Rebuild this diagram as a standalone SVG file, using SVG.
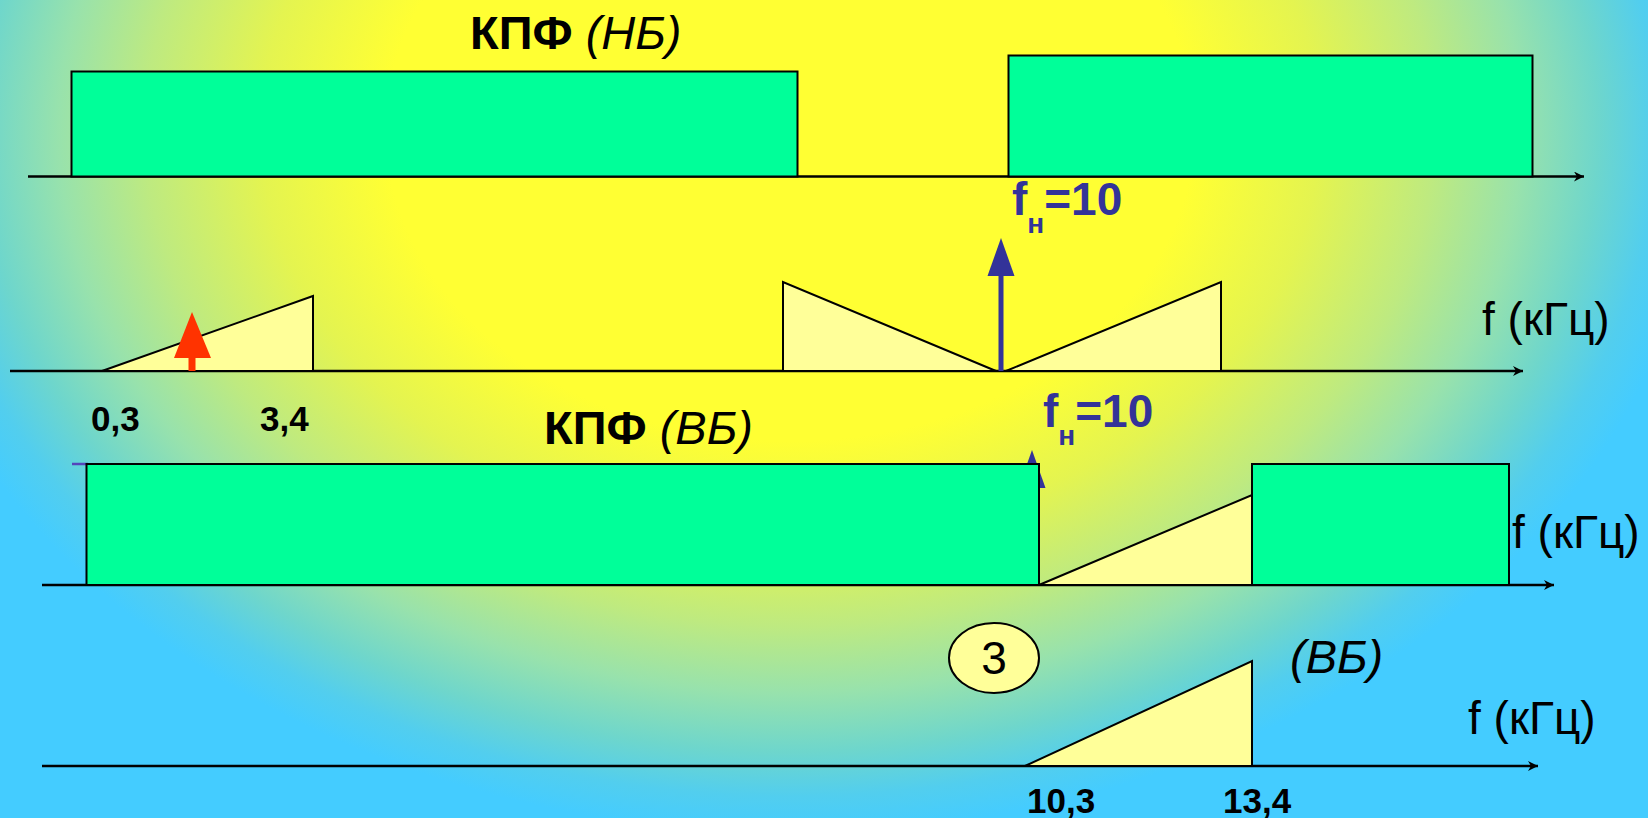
<svg xmlns="http://www.w3.org/2000/svg" width="1648" height="818" viewBox="0 0 1648 818">
<defs>
<radialGradient id="bg" gradientUnits="userSpaceOnUse" cx="790" cy="130" r="740" gradientTransform="translate(790 130) scale(1.3 1) translate(-790 -130)">
<stop offset="0" stop-color="#FFFF33"/>
<stop offset="0.42" stop-color="#FFFF33"/>
<stop offset="0.55" stop-color="#E4F450"/>
<stop offset="0.67" stop-color="#BEEA80"/>
<stop offset="0.76" stop-color="#98E2AC"/>
<stop offset="0.84" stop-color="#6ED6CC"/>
<stop offset="0.9" stop-color="#52CEEE"/>
<stop offset="0.95" stop-color="#44CCFF"/>
<stop offset="1" stop-color="#44CCFF"/>
</radialGradient>
<marker id="ah" viewBox="0 0 10 10" refX="10" refY="5" markerWidth="10" markerHeight="10" markerUnits="userSpaceOnUse" orient="auto">
<path d="M0,0 L10,5 L0,10 L3,5 Z" fill="#000"/>
</marker>
<style>
.ax{stroke:#000;stroke-width:2.5;fill:none}
.flt{fill:#00FF99;stroke:#000;stroke-width:2}
.sp{fill:#FFFF99;stroke:#000;stroke-width:2;stroke-linejoin:miter}
.lbl{font-family:"Liberation Sans",Arial,sans-serif;font-size:47px;fill:#000}
.ax-lbl{font-family:"Liberation Sans",Arial,sans-serif;font-size:46px;fill:#000}
.num{font-family:"Liberation Sans",Arial,sans-serif;font-size:35px;font-weight:bold;fill:#000}
.fn{font-family:"Liberation Sans",Arial,sans-serif;font-size:46px;font-weight:bold;fill:#333399}
.sub{font-size:28px}
.blue{fill:#333399}
</style>
</defs>
<rect width="1648" height="818" fill="url(#bg)"/>

<g id="connectors">
<line class="ax" x1="28" y1="176.5" x2="1584" y2="176.5" marker-end="url(#ah)"/>
<line class="ax" x1="10" y1="371" x2="1523" y2="371" marker-end="url(#ah)"/>
<line class="ax" x1="42" y1="585" x2="1554" y2="585" marker-end="url(#ah)"/>
<line class="ax" x1="42" y1="766" x2="1538" y2="766" marker-end="url(#ah)"/>
</g>

<g id="row1">
<rect id="kpf-nb-1" class="flt" x="71.5" y="71.5" width="726" height="105"/>
<rect id="kpf-nb-2" class="flt" x="1008.5" y="55.5" width="524" height="121"/>
<text id="title-nb" class="lbl" x="470" y="49"><tspan font-weight="bold">КПФ</tspan> <tspan font-style="italic">(НБ)</tspan></text>
</g>

<g id="row2">
<polygon id="base-spectrum" class="sp" points="102,371 313,296 313,371"/>
<polygon id="lsb" class="sp" points="783,282 783,371 996,371"/>
<polygon id="usb" class="sp" points="1006,371 1221,282 1221,371"/>
<g id="carrier-arrow">
<rect class="blue" x="998.5" y="274" width="5" height="97"/>
<polygon class="blue" points="1001,238 1014.5,276 987.5,276"/>
</g>
<g id="red-arrow">
<rect x="188.5" y="355" width="7" height="16" fill="#FF3300"/>
<polygon points="192,312 211,358 174,358" fill="#FF3300"/>
</g>
<text id="fn1" class="fn" x="1012" y="215">f<tspan class="sub" dy="18">н</tspan><tspan dy="-18">=10</tspan></text>
<text id="axis-label-2" class="ax-lbl" x="1482" y="335">f (кГц)</text>
<text id="lbl-03" class="num" x="91" y="431">0,3</text>
<text id="lbl-34" class="num" x="260" y="431">3,4</text>
</g>

<g id="row3">
<g id="hidden-arrow">
<rect class="blue" x="1029.5" y="486" width="5" height="99"/>
<polygon class="blue" points="1032,450 1045.5,488 1018.5,488"/>
</g>
<line x1="72" y1="464" x2="88" y2="464" stroke="#5544BB" stroke-width="2.5"/>
<polygon id="usb-filtered" class="sp" points="1039,585 1252,495 1252,585"/>
<rect id="kpf-vb-1" class="flt" x="86.5" y="464" width="952.5" height="121"/>
<rect id="kpf-vb-2" class="flt" x="1252" y="464" width="257" height="121"/>
<text id="title-vb" class="lbl" x="544" y="444"><tspan font-weight="bold">КПФ</tspan> <tspan font-style="italic">(ВБ)</tspan></text>
<text id="fn2" class="fn" x="1043" y="427">f<tspan class="sub" dy="18">н</tspan><tspan dy="-18">=10</tspan></text>
<text id="axis-label-3" class="ax-lbl" x="1512" y="548">f (кГц)</text>
</g>

<g id="row4">
<g id="badge-3">
<ellipse cx="994" cy="658" rx="45" ry="35" fill="#FFFF99" stroke="#000" stroke-width="2"/>
<text class="ax-lbl" x="994" y="674" text-anchor="middle" font-size="44">3</text>
</g>
<text id="vb-label" class="lbl" x="1290" y="673" font-style="italic" font-size="49">(ВБ)</text>
<polygon id="ssb-out" class="sp" points="1025,766 1252,661 1252,766"/>
<text id="axis-label-4" class="ax-lbl" x="1468" y="734">f (кГц)</text>
<text id="lbl-103" class="num" x="1027" y="813">10,3</text>
<text id="lbl-134" class="num" x="1223" y="813">13,4</text>
</g>
</svg>
